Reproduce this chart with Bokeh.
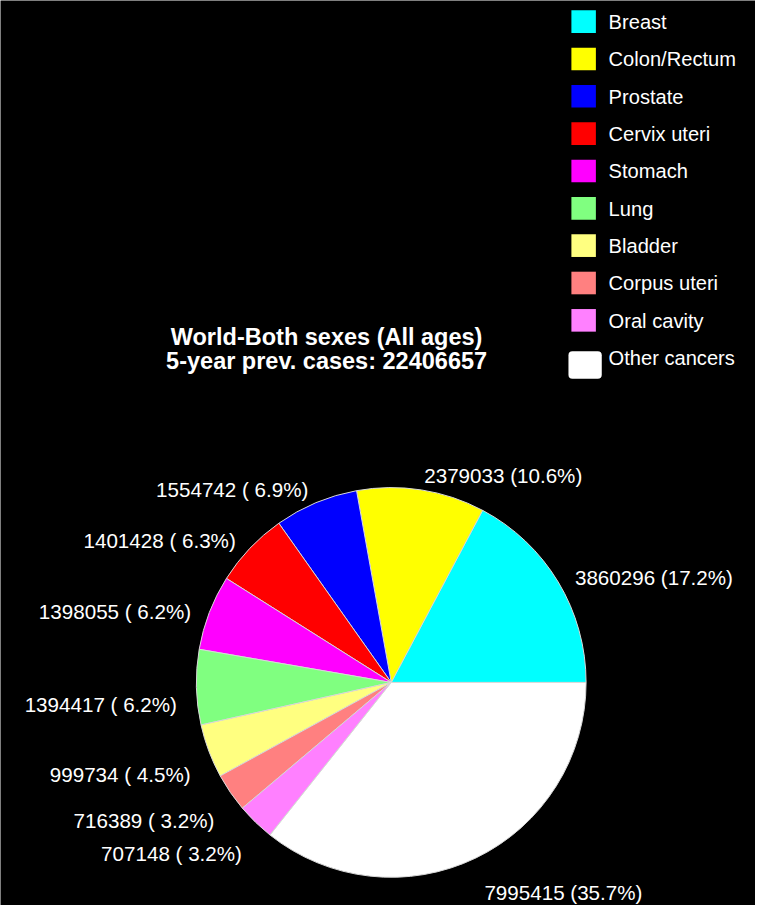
import numpy as np
from bokeh.plotting import figure
from bokeh.models import Range1d
from bokeh.core.properties import value
from bokeh.embed import file_html
from bokeh.resources import INLINE

# ---------------- data ----------------
sites = ["Breast", "Colon/Rectum", "Prostate", "Cervix uteri", "Stomach",
         "Lung", "Bladder", "Corpus uteri", "Oral cavity", "Other cancers"]
cases = [3860296, 2379033, 1554742, 1401428, 1398055,
         1394417, 999734, 716389, 707148, 7995415]
percents = [17.2, 10.6, 6.9, 6.3, 6.2, 6.2, 4.5, 3.2, 3.2, 35.7]
colors = ["#00FFFF", "#FFFF00", "#0000FF", "#FF0000", "#FF00FF",
          "#80FF80", "#FFFF80", "#FF8080", "#FF80FF", "#FFFFFF"]
title_lines = ["World-Both sexes (All ages)", "5-year prev. cases: 22406657"]

# ---------------- layout (reference pixel coords, y flipped) ----------------
W, H = 771, 921
PW, PH = 755, 905
S = PW / W


def Y(yref):
    return H - yref


def fs(px):
    return f"{px * S:.1f}px"


FONT = value("'Liberation Sans', Arial, sans-serif")

p = figure(width=PW, height=PH, output_backend="svg", toolbar_location=None,
           x_range=Range1d(0, W), y_range=Range1d(0, H),
           background_fill_color="black", border_fill_color="black",
           min_border=0, outline_line_color=None)
p.axis.visible = False
p.grid.visible = False

# ---------------- pie ----------------
cx, cy, r = 399, Y(694), 199
vals = np.array(cases, dtype=float)
frac = vals / vals.sum()
ends = np.cumsum(frac) * 2 * np.pi
starts = np.concatenate([[0.0], ends[:-1]])
p.wedge(x=cx, y=cy, radius=r, start_angle=list(starts), end_angle=list(ends),
        direction="anticlock", fill_color=colors, line_color="#d8d8d8", line_width=1)

# ---------------- slice labels ----------------
mids = (starts + ends) / 2
for c, pc, a in zip(cases, percents, mids):
    px = cx + 1.1 * r * np.cos(a)
    py = cy + 1.1 * r * np.sin(a)
    off = 6 if np.sin(a) > 0 else 17
    p.text(x=[px], y=[py - off], text=[f"{c} ({pc:4.1f}%)"],
           text_align="left" if np.cos(a) >= 0 else "right",
           text_baseline="middle", text_color="white",
           text_font=FONT, text_font_size=fs(21))

# ---------------- legend ----------------
n = len(sites)
tops = [Y(10 + 38 * i) for i in range(n - 1)]
p.quad(left=[583] * (n - 1), right=[608] * (n - 1), top=tops,
       bottom=[t - 23 for t in tops], fill_color=colors[:-1], line_color=None)
p.quad(left=[580], right=[614], top=[Y(357)], bottom=[Y(385)],
       fill_color=colors[-1], line_color=None, border_radius=4)
p.text(x=[621] * n, y=[Y(22 + 38 * i) for i in range(n)], text=sites,
       text_align="left", text_baseline="middle", text_color="white",
       text_font=FONT, text_font_size=fs(20.5))

# ---------------- title ----------------
p.text(x=[333, 333], y=[Y(342), Y(367)], text=title_lines, text_align="center",
       text_baseline="middle", text_color="white", text_font=FONT,
       text_font_size=fs(24), text_font_style="bold")

open("out.html", "w").write(file_html(p, INLINE))
